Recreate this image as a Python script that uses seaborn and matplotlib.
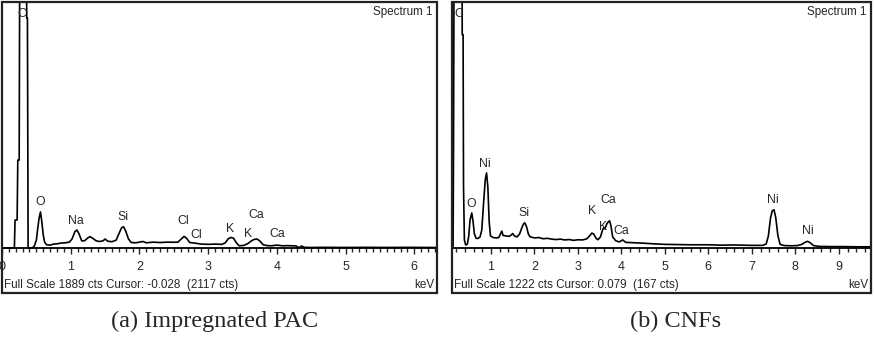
import numpy as np
import pandas as pd
import seaborn as sns
import matplotlib
matplotlib.use("Agg")
import matplotlib.pyplot as plt
from matplotlib.ticker import MultipleLocator
from matplotlib.patches import Rectangle

# ---------------- data ----------------
# (a) Impregnated PAC, full scale 1889 cts
energy_a = [0.00, 0.18, 0.19, 0.22, 0.23, 0.25, 0.26, 0.35, 0.36, 0.37,
            0.38, 0.44, 0.47, 0.50, 0.52, 0.54, 0.56, 0.58, 0.60, 0.62,
            0.65, 0.70, 0.75, 0.80, 0.86, 0.92, 0.98, 1.02, 1.06, 1.09,
            1.12, 1.16, 1.20, 1.25, 1.28, 1.32, 1.37, 1.42, 1.47, 1.50,
            1.54, 1.60, 1.66, 1.71, 1.74, 1.77, 1.80, 1.84, 1.88, 1.95,
            2.00, 2.05, 2.10, 2.20, 2.30, 2.40, 2.50, 2.56, 2.61, 2.65,
            2.69, 2.73, 2.80, 2.90, 3.00, 3.10, 3.20, 3.25, 3.29, 3.33,
            3.37, 3.41, 3.45, 3.52, 3.58, 3.63, 3.67, 3.71, 3.75, 3.80,
            3.86, 3.92, 4.00, 4.08, 4.16, 4.22, 4.28, 4.30, 4.34, 4.36,
            4.40, 4.50, 4.70, 5.00, 5.30, 5.60, 5.90, 6.20, 6.35]
counts_a = [0, 0, 215, 215, 675, 675, 2600, 2600, 1766, 1766,
            0, 0, 15, 60, 150, 230, 277, 200, 100, 45,
            25, 22, 30, 32, 38, 40, 45, 70, 125, 138,
            110, 55, 55, 78, 87, 75, 55, 50, 55, 69,
            52, 48, 60, 120, 155, 163, 130, 70, 42, 40,
            45, 50, 40, 45, 42, 45, 44, 45, 70, 89,
            72, 42, 38, 30, 28, 30, 28, 40, 70, 81,
            75, 40, 17, 20, 35, 55, 66, 69, 55, 25,
            18, 17, 22, 17, 18, 17, 16, 6, 6, 15,
            5, 4, 5, 4, 5, 4, 5, 4, 4]

# (b) CNFs, full scale 1222 cts
energy_b = [0.10, 0.13, 0.14, 0.16, 0.33, 0.34, 0.36, 0.37, 0.39, 0.42,
            0.46, 0.49, 0.52, 0.56, 0.59, 0.62, 0.66, 0.70, 0.75, 0.79,
            0.83, 0.87, 0.90, 0.93, 0.96, 0.99, 1.05, 1.12, 1.18, 1.22,
            1.25, 1.28, 1.35, 1.42, 1.47, 1.50, 1.54, 1.60, 1.66, 1.71,
            1.75, 1.78, 1.82, 1.86, 1.90, 2.00, 2.10, 2.20, 2.30, 2.40,
            2.50, 2.60, 2.70, 2.80, 2.90, 3.00, 3.10, 3.20, 3.27, 3.32,
            3.36, 3.42, 3.46, 3.52, 3.56, 3.59, 3.62, 3.66, 3.70, 3.73,
            3.76, 3.80, 3.87, 3.95, 4.03, 4.10, 4.30, 4.50, 4.80, 5.00,
            5.30, 5.60, 6.00, 6.30, 6.60, 7.00, 7.25, 7.33, 7.38, 7.43,
            7.47, 7.51, 7.55, 7.60, 7.65, 7.75, 7.90, 8.05, 8.15, 8.22,
            8.28, 8.33, 8.42, 8.55, 8.80, 9.10, 9.40, 9.74]
counts_b = [0, 0, 500, 2000, 2000, 1060, 1060, 300, 40, 15,
            20, 60, 140, 174, 130, 70, 48, 47, 55, 90,
            220, 340, 373, 300, 130, 60, 52, 50, 52, 70,
            84, 62, 60, 58, 65, 72, 60, 55, 70, 100,
            120, 125, 105, 70, 56, 50, 52, 46, 48, 44,
            42, 44, 40, 42, 38, 41, 40, 45, 60, 74,
            70, 48, 41, 55, 85, 100, 95, 118, 130, 135,
            110, 55, 36, 30, 40, 28, 26, 24, 20, 18,
            17, 16, 16, 14, 15, 13, 13, 20, 60, 150,
            185, 190, 150, 60, 18, 12, 11, 12, 18, 28,
            33, 28, 12, 8, 7, 7, 6, 6]

full_scale = [1889, 1222]
xlims = [(0.0, 6.33), (0.105, 9.74)]
xticks = [[0, 1, 2, 3, 4, 5, 6], [1, 2, 3, 4, 5, 6, 7, 8, 9]]
minor_step = [0.1, 0.2]
footers = ["Full Scale 1889 cts Cursor: -0.028  (2117 cts)",
           "Full Scale 1222 cts Cursor: 0.079  (167 cts)"]
captions = ["(a) Impregnated PAC", "(b) CNFs"]

labels_a = [("C", 0.29, 1797), ("O", 0.553, 353), ("Na", 1.077, 207),
            ("Si", 1.761, 238), ("Cl", 2.635, 207), ("Cl", 2.824, 100),
            ("K", 3.319, 146), ("K", 3.581, 108), ("Ca", 3.697, 253),
            ("Ca", 4.003, 108)]
labels_b = [("C", 0.27, 1162), ("Ni", 0.862, 417), ("O", 0.541, 219),
            ("Si", 1.764, 174), ("K", 3.323, 184), ("Ca", 3.690, 238),
            ("K", 3.576, 104), ("Ca", 3.998, 84), ("Ni", 7.475, 238),
            ("Ni", 8.278, 84)]

# ---------------- figure ----------------
sns.set_style("white")
plt.rcParams["font.family"] = ["Liberation Sans", "DejaVu Sans"]

W, H = 874, 351
fig = plt.figure(figsize=(W / 100, H / 100), dpi=100)

boxes = [(2, 437), (452, 871)]
top_px, bot_px, base_px = 2, 293, 248
data = [(energy_a, counts_a, labels_a), (energy_b, counts_b, labels_b)]
font_small = 8.4

for i, ((x0, x1), (en, ct, labs)) in enumerate(zip(boxes, data)):
    ax = fig.add_axes([x0 / W, (H - bot_px) / H, (x1 - x0) / W, (bot_px - top_px) / H])
    fs = full_scale[i]
    cts_per_px = fs / (base_px - top_px)
    ax.set_ylim(-(bot_px - base_px) * cts_per_px, fs)
    ax.set_xlim(*xlims[i])
    df = pd.DataFrame({"keV": en, "cts": ct})
    sns.lineplot(data=df, x="keV", y="cts", ax=ax, color="black", lw=1.2,
                 sort=False, estimator=None)
    ax.set_xlabel("")
    ax.set_ylabel("")
    for s in ["top", "left", "right"]:
        ax.spines[s].set_visible(False)
    ax.spines["bottom"].set_position(("data", 0))
    ax.spines["bottom"].set_linewidth(1.3)
    ax.spines["bottom"].set_color("black")
    ax.add_patch(Rectangle((0, 0), 1, 1, transform=ax.transAxes, fill=False,
                           lw=1.6, ec="#222222", clip_on=False, zorder=5))
    ax.set_yticks([])
    ax.set_xticks(xticks[i])
    ax.xaxis.set_minor_locator(MultipleLocator(minor_step[i]))
    ax.tick_params(axis="x", which="major", direction="out", length=4, width=1,
                   pad=5.5, labelsize=font_small + 0.6, bottom=True)
    ax.tick_params(axis="x", which="minor", direction="out", length=3, width=1,
                   bottom=True)
    for lab, xx, yy in labs:
        ax.text(xx, yy, lab, ha="center", va="center", fontsize=font_small + 0.4)
    ax.text(0.989 if i == 0 else 0.99, 1 - 10 / 291, "Spectrum 1", transform=ax.transAxes,
            ha="right", va="center", fontsize=font_small)
    ax.text(0.004, 8 / 291, footers[i], transform=ax.transAxes, ha="left",
            va="center", fontsize=font_small)
    ax.text(0.994, 8 / 291, "keV", transform=ax.transAxes, ha="right",
            va="center", fontsize=font_small)

fig.text(215 / W, 1 - 321 / H, captions[0], ha="center", va="center",
         fontsize=17.5, family="Liberation Serif")
fig.text(676 / W, 1 - 321 / H, captions[1], ha="center", va="center",
         fontsize=17.5, family="Liberation Serif")

fig.savefig("out.png", dpi=100)
